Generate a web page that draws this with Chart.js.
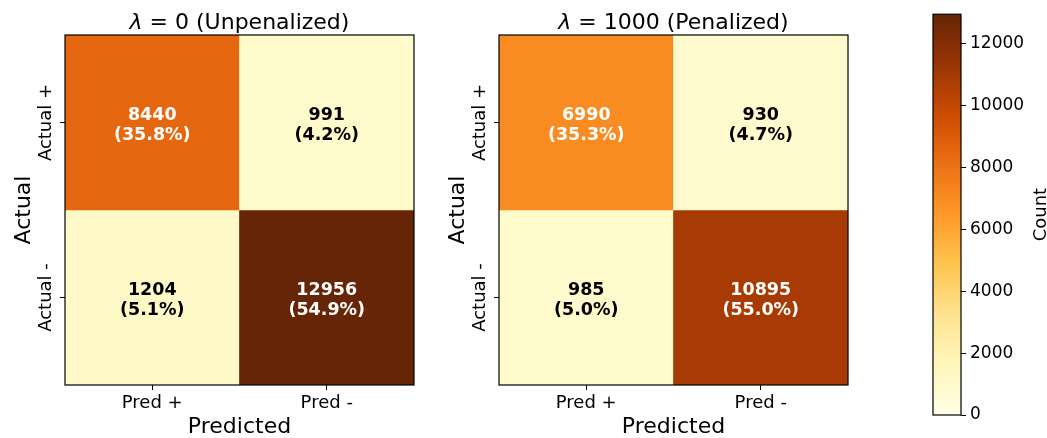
<!DOCTYPE html>
<html><head><meta charset="utf-8">
<script src="https://cdn.jsdelivr.net/npm/chart.js@4"></script>
<style>
html,body{margin:0;padding:0;background:#fff;}
#wrap{position:relative;width:1047px;height:438px;background:#fff;}
canvas{position:absolute;left:0;top:0;}
</style></head><body>
<div id="wrap">
<canvas id="c1" width="1047" height="438"></canvas>
<canvas id="c2" width="1047" height="438"></canvas>
<canvas id="c3" width="1047" height="438"></canvas>
</div>
<script>
// ---- data ----
const predLabels = ['Pred +', 'Pred -'];
const actualLabels = ['Actual +', 'Actual -'];
const unpenalizedActualPos = [8440, 991];
const unpenalizedActualNeg = [1204, 12956];
const penalizedActualPos = [6990, 930];
const penalizedActualNeg = [985, 10895];
const colorbarTicks = [0, 2000, 4000, 6000, 8000, 10000, 12000];
const colorMax = 12956;
const titleUnpenalized = ['λ', ' = 0 (Unpenalized)'];
const titlePenalized = ['λ', ' = 1000 (Penalized)'];

const FONT = '"DejaVu Sans", sans-serif';
const YLORBR = [[255,255,229],[255,247,188],[254,227,145],[254,196,79],[254,153,41],[236,112,20],[204,76,2],[153,52,4],[102,37,6]];
function cmap(t) {
  t = Math.max(0, Math.min(1, t));
  const s = t * 8, i = Math.min(7, Math.floor(s)), f = s - i;
  const a = YLORBR[i], b = YLORBR[i + 1];
  const c = a.map((v, k) => Math.round(v + (b[k] - v) * f));
  return `rgb(${c[0]},${c[1]},${c[2]})`;
}

function heatPlugin(titleParts, rows) {
  return {
    id: 'heat',
    afterDatasetsDraw(chart) {
      const ctx = chart.ctx;
      const total = rows.flat().reduce((a, b) => a + b, 0);
      ctx.save();
      chart.data.datasets.forEach((ds, di) => {
        const meta = chart.getDatasetMeta(di);
        meta.data.forEach((bar, j) => {
          const v = rows[di][j];
          const cx = bar.x, cy = (bar.y + bar.base) / 2;
          ctx.fillStyle = v > colorMax / 2 ? '#ffffff' : '#000000';
          ctx.font = 'bold 17.5px ' + FONT;
          ctx.textAlign = 'center';
          ctx.textBaseline = 'alphabetic';
          ctx.fillText(String(v), cx, cy - 3);
          ctx.fillText('(' + (v / total * 100).toFixed(1) + '%)', cx, cy + 17.5);
        });
      });
      ctx.restore();
    },
    afterDraw(chart) {
      const ctx = chart.ctx, ca = chart.chartArea, ys = chart.scales.y;
      ctx.save();
      ctx.strokeStyle = '#000';
      ctx.lineWidth = 1.2;
      ctx.strokeRect(ca.left, ca.top, ca.right - ca.left, ca.bottom - ca.top);
      ctx.fillStyle = '#000';
      ctx.font = '18px ' + FONT;
      ctx.textAlign = 'center';
      ctx.textBaseline = 'alphabetic';
      ys.ticks.forEach(t => {
        const py = ys.getPixelForValue(t.value);
        const lbl = t.value > 1 ? actualLabels[0] : actualLabels[1];
        ctx.save();
        ctx.translate(ca.left - 14, py);
        ctx.rotate(-Math.PI / 2);
        ctx.fillText(lbl, 0, 0);
        ctx.restore();
      });
      ctx.font = '22px ' + FONT;
      ctx.save();
      ctx.translate(ca.left - 35, (ca.top + ca.bottom) / 2);
      ctx.rotate(-Math.PI / 2);
      ctx.fillText('Actual', 0, 0);
      ctx.restore();
      const fItal = 'italic 22px ' + FONT, fNorm = '22px ' + FONT;
      ctx.font = fItal; const w0 = ctx.measureText(titleParts[0]).width;
      ctx.font = fNorm; const w1 = ctx.measureText(titleParts[1]).width;
      let x = (ca.left + ca.right) / 2 - (w0 + w1) / 2;
      ctx.textAlign = 'left';
      ctx.font = fItal; ctx.fillText(titleParts[0], x, 29);
      ctx.font = fNorm; ctx.fillText(titleParts[1], x + w0, 29);
      ctx.restore();
    }
  };
}

function heatmap(id, rowPos, rowNeg, titleParts, padLeft, padRight) {
  const rows = [rowPos, rowNeg];
  return new Chart(document.getElementById(id), {
    type: 'bar',
    data: {
      labels: predLabels,
      datasets: [
        { label: actualLabels[0], data: rowPos.map(() => [1, 2]), backgroundColor: rowPos.map(v => cmap(v / colorMax)) },
        { label: actualLabels[1], data: rowNeg.map(() => [0, 1]), backgroundColor: rowNeg.map(v => cmap(v / colorMax)) }
      ]
    },
    options: {
      responsive: false, animation: false,
      layout: { padding: { left: padLeft, top: 35, right: padRight, bottom: 0 } },
      datasets: { bar: { grouped: false, categoryPercentage: 1, barPercentage: 1, borderWidth: 0 } },
      plugins: { legend: { display: false }, tooltip: { enabled: false }, title: { display: false } },
      scales: {
        x: {
          offset: true,
          grid: { offset: false, display: true, drawOnChartArea: false, drawTicks: true, tickLength: 5, color: '#000', lineWidth: 1 },
          border: { display: false },
          ticks: { color: '#000', font: { family: FONT, size: 18, lineHeight: 1 }, padding: 4.5, maxRotation: 0, autoSkip: false },
          title: { display: true, text: 'Predicted', color: '#000', font: { family: FONT, size: 22, lineHeight: 1 }, padding: 0 },
          afterFit: s => { s.height = 53; }
        },
        y: {
          min: 0, max: 2,
          afterBuildTicks: s => { s.ticks = [{ value: 0.5 }, { value: 1.5 }]; },
          grid: { display: true, drawOnChartArea: false, drawTicks: true, tickLength: 5, color: '#000', lineWidth: 1 },
          border: { display: false },
          ticks: { color: 'rgba(0,0,0,0)', font: { family: FONT, size: 18 }, callback: v => (v > 1 ? actualLabels[0] : actualLabels[1]) },
          afterFit: s => { s.width = 65; }
        }
      }
    },
    plugins: [heatPlugin(titleParts, rows)]
  });
}

heatmap('c1', unpenalizedActualPos, unpenalizedActualNeg, titleUnpenalized, 0, 633);
heatmap('c2', penalizedActualPos, penalizedActualNeg, titlePenalized, 434, 199);

// ---- colorbar ----
new Chart(document.getElementById('c3'), {
  type: 'bar',
  data: {
    labels: ['Count'],
    datasets: [{
      data: [[0, colorMax]],
      borderWidth: 0, categoryPercentage: 1, barPercentage: 1,
      backgroundColor: c => {
        const ch = c.chart;
        if (!ch.chartArea) return cmap(0.5);
        const y = ch.scales.y;
        const g = ch.ctx.createLinearGradient(0, y.getPixelForValue(0), 0, y.getPixelForValue(colorMax));
        YLORBR.forEach((col, i) => g.addColorStop(i / 8, `rgb(${col[0]},${col[1]},${col[2]})`));
        return g;
      }
    }]
  },
  options: {
    responsive: false, animation: false,
    layout: { padding: { left: 933, top: 5, right: 0, bottom: 23 } },
    plugins: { legend: { display: false }, tooltip: { enabled: false } },
    scales: {
      x: { display: false, offset: true },
      y: {
        position: 'right', min: 0, max: colorMax,
        afterBuildTicks: s => { s.ticks = colorbarTicks.map(v => ({ value: v })); },
        ticks: { color: '#000', font: { family: FONT, size: 17 }, padding: 4, callback: v => String(v) },
        grid: { display: true, drawOnChartArea: false, drawTicks: true, tickLength: 5, color: '#000', lineWidth: 1 },
        border: { display: false },
        afterFit: s => { s.width = 86; }
      }
    }
  },
  plugins: [{
    id: 'cbar',
    afterDraw(chart) {
      const ctx = chart.ctx, ca = chart.chartArea;
      ctx.save();
      ctx.strokeStyle = '#000'; ctx.lineWidth = 1.2;
      ctx.strokeRect(ca.left, ca.top, ca.right - ca.left, ca.bottom - ca.top);
      ctx.fillStyle = '#000';
      ctx.font = '18px ' + FONT;
      ctx.textAlign = 'center'; ctx.textBaseline = 'alphabetic';
      ctx.translate(1046, (ca.top + ca.bottom) / 2);
      ctx.rotate(-Math.PI / 2);
      ctx.fillText('Count', 0, 0);
      ctx.restore();
    }
  }]
});
</script>
</body></html>
